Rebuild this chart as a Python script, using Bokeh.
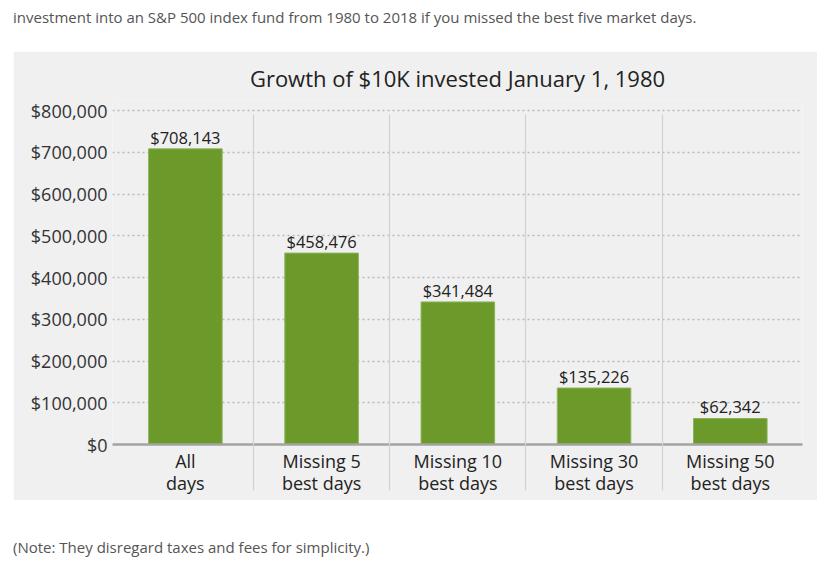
from bokeh.plotting import figure
from bokeh.models import Div, FixedTicker, NumeralTickFormatter, Range1d
from bokeh.layouts import column
from bokeh.core.properties import value
from bokeh.embed import file_html
from bokeh.resources import INLINE

# ---- data ----
categories = ["All\ndays", "Missing 5\nbest days", "Missing 10\nbest days",
              "Missing 30\nbest days", "Missing 50\nbest days"]
values = [708143, 458476, 341484, 135226, 62342]
value_labels = ["$708,143", "$458,476", "$341,484", "$135,226", "$62,342"]
y_ticks = [0, 100000, 200000, 300000, 400000, 500000, 600000, 700000, 800000]

title_text = "Growth of $10K invested January 1, 1980"
intro_text = ("investment into an S&amp;P 500 index fund from 1980 to 2018 "
              "if you missed the best five market days.")
note_text = "(Note: They disregard taxes and fees for simplicity.)"

xs = list(range(len(categories)))
separators = [i + 0.5 for i in xs[:-1]]

FONT = "Open Sans"
BG = "#f0f0f0"

p = figure(width=804, height=449, output_backend="svg", toolbar_location=None,
           x_range=Range1d(-0.535, 4.53), y_range=Range1d(0, 824000),
           min_border_left=99, min_border_right=15, min_border_bottom=56,
           min_border_top=49, title=title_text)
p.margin = (0, 0, 0, 13)
p.background_fill_color = BG
p.border_fill_color = BG
p.outline_line_color = None

p.title.align = "center"
p.title.text_font = FONT
p.title.text_font_size = "22px"
p.title.text_font_style = "normal"
p.title.text_color = "#222222"
p.title.standoff = 16

# y axis
p.yaxis.ticker = FixedTicker(ticks=y_ticks)
p.yaxis.formatter = NumeralTickFormatter(format="$0,0")
p.yaxis.axis_line_color = None
p.yaxis.major_tick_line_color = None
p.yaxis.minor_tick_line_color = None
p.yaxis.major_tick_out = 0
p.yaxis.major_tick_in = 0
p.yaxis.major_label_standoff = 5
p.yaxis.major_label_text_font = FONT
p.yaxis.major_label_text_font_size = "18px"
p.yaxis.major_label_text_color = "#333333"

# x axis
p.xaxis.ticker = FixedTicker(ticks=xs, minor_ticks=separators)
p.xaxis.major_label_overrides = {i: c for i, c in zip(xs, categories)}
p.xaxis.major_tick_line_color = None
p.xaxis.major_tick_out = 0
p.xaxis.major_tick_in = 0
p.xaxis.minor_tick_line_color = "#d2d2d2"
p.xaxis.minor_tick_line_width = 1.2
p.xaxis.minor_tick_in = 330
p.xaxis.minor_tick_out = 46
p.xaxis.axis_line_color = "#a3a3a3"
p.xaxis.axis_line_width = 2.5
p.xaxis.major_label_standoff = -42
p.xaxis.major_label_text_font = FONT
p.xaxis.major_label_text_font_size = "18px"
p.xaxis.major_label_text_line_height = 0.93
p.xaxis.major_label_text_color = "#222222"

p.xgrid.grid_line_color = None
p.ygrid.grid_line_color = "#b8b8b8"
p.ygrid.grid_line_dash = "2 3"
p.ygrid.grid_line_width = 1.5

p.vbar(x=xs, top=values, width=0.54, fill_color="#6b9a2b",
       line_color="#8db35a", line_width=1)
p.text(x=xs, y=values, text=value_labels, text_align="center",
       text_baseline="bottom", y_offset=0,
       text_font=value(FONT), text_font_size="16.5px", text_color="#222222")

intro = Div(text=intro_text, width=796, height=43, margin=(8, 0, 0, 13),
            styles={"font-family": FONT, "font-size": "15px", "color": "#555555",
                    "line-height": "18px"})
note = Div(text=note_text, width=796, height=14, margin=(40, 0, 0, 13),
           styles={"font-family": FONT, "font-size": "15px", "color": "#555555",
                   "line-height": "14px"})

layout = column(intro, p, note, spacing=0)

open("out.html", "w").write(file_html(layout, INLINE))
